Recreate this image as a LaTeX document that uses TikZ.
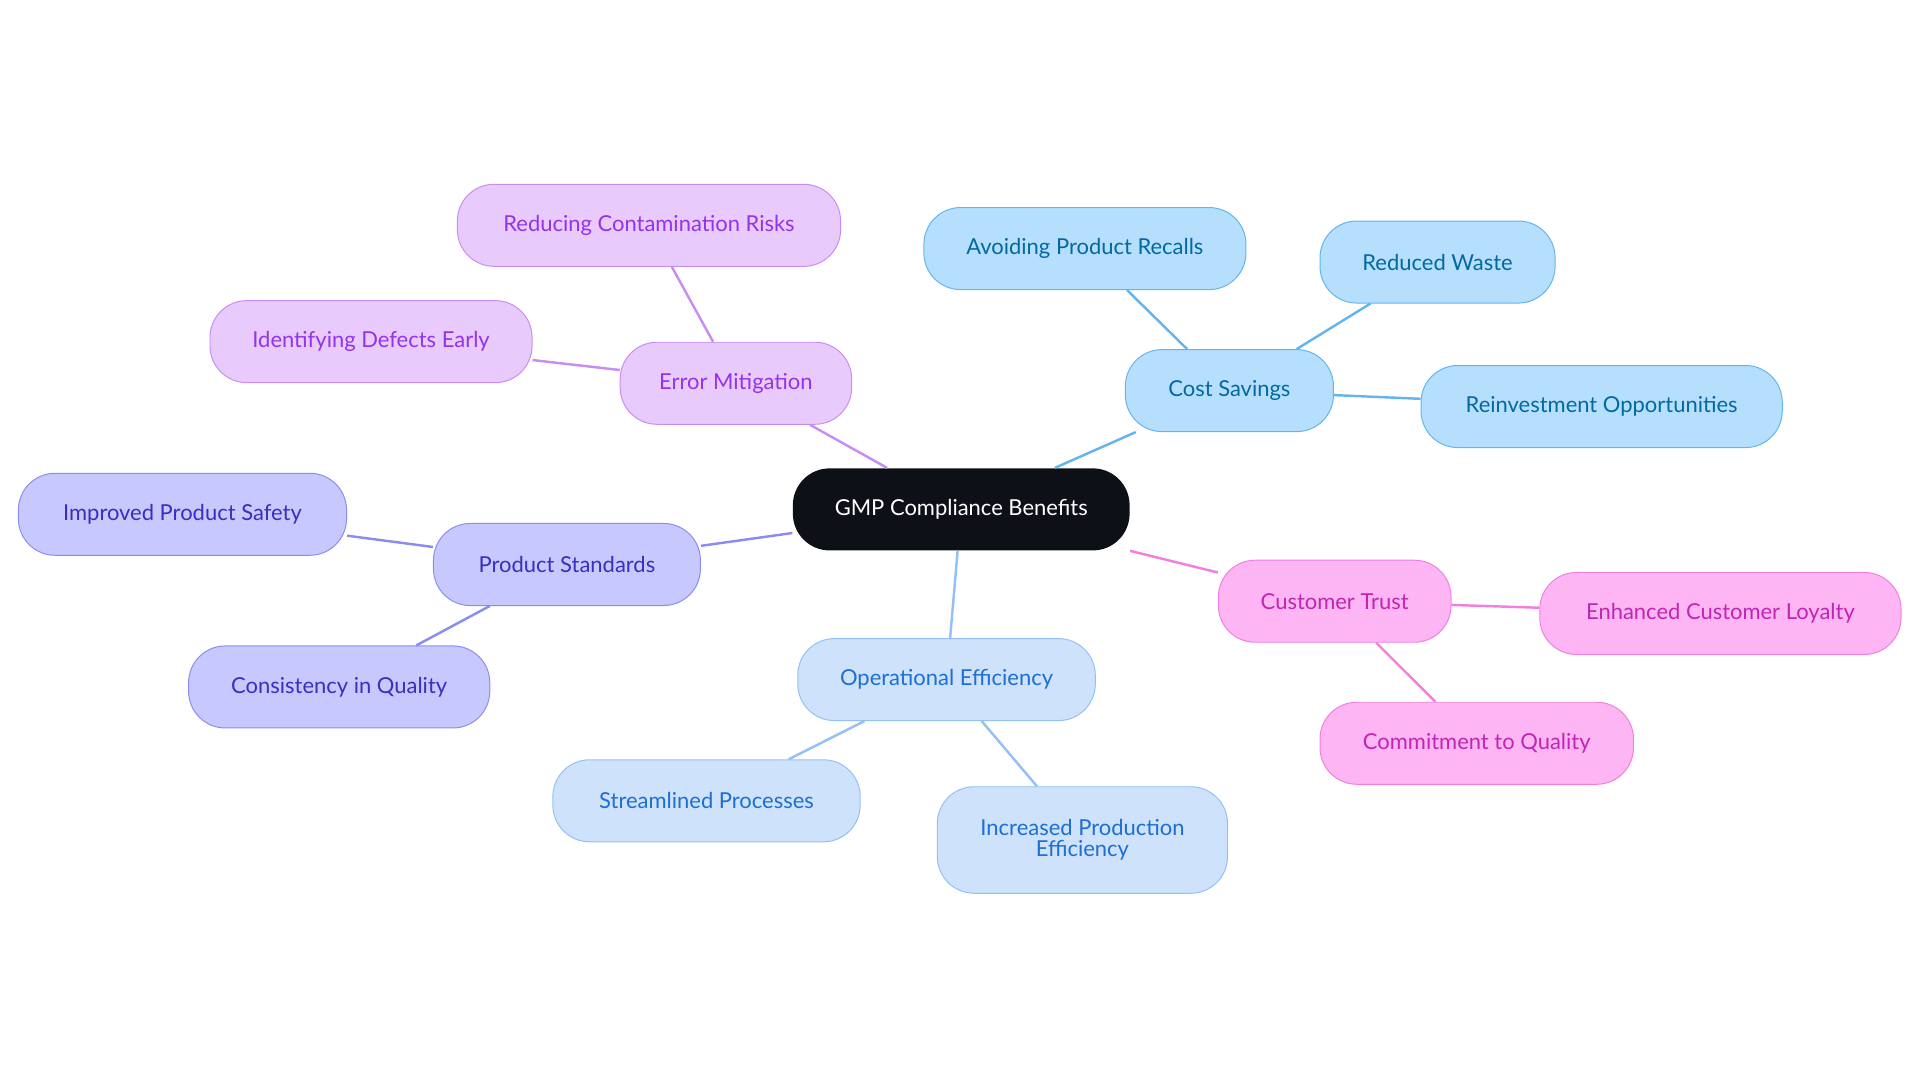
\documentclass[tikz,border=0pt]{standalone}
\usepackage{fontspec}
\setmainfont{Lato}
\begin{document}
\begin{tikzpicture}[x=1bp,y=-1bp,
 box/.style={rounded corners=30bp,minimum height=67bp,inner sep=0pt,font=\fontsize{18}{20}\selectfont,line width=0.8bp,align=center},
 pu/.style={box,fill=purple!0!white,fill={rgb,255:red,232;green,203;blue,252},draw={rgb,255:red,200;green,140;blue,245},text={rgb,255:red,147;green,51;blue,234}},
 ind/.style={box,fill={rgb,255:red,199;green,200;blue,253},draw={rgb,255:red,139;green,140;blue,240},text={rgb,255:red,55;green,48;blue,192}},
 lb/.style={box,fill={rgb,255:red,206;green,226;blue,251},draw={rgb,255:red,147;green,192;blue,245},text={rgb,255:red,29;green,111;blue,209}},
 sb/.style={box,fill={rgb,255:red,181;green,223;blue,253},draw={rgb,255:red,100;green,180;blue,238},text={rgb,255:red,3;green,105;blue,161}},
 pk/.style={box,fill={rgb,255:red,253;green,181;blue,243},draw={rgb,255:red,240;green,127;blue,224},text={rgb,255:red,192;green,38;blue,179}},
 ln/.style={line width=2bp}]
\useasboundingbox (0,0) rectangle (1568,884);
\node[box,fill={rgb,255:red,13;green,17;blue,23},text=white,minimum width=275bp] (root) at (785,416) {GMP Compliance Benefits};
\node[pu,minimum width=189bp] (em) at (601,313) {Error Mitigation};
\node[pu,minimum width=313bp] (rc) at (530,184) {Reducing Contamination Risks};
\node[pu,minimum width=263bp] (id) at (303,279) {Identifying Defects Early};
\node[ind,minimum width=218bp] (ps) at (463,461) {Product Standards};
\node[ind,minimum width=268bp] (ip) at (149,420) {Improved Product Safety};
\node[ind,minimum width=246bp] (cq) at (277,561) {Consistency in Quality};
\node[lb,minimum width=243bp] (oe) at (773,555) {Operational Efficiency};
\node[lb,minimum width=251bp] (sp) at (577,654) {Streamlined Processes};
\node[lb,minimum width=237bp,minimum height=87bp] (ipe) at (884,686) {Increased Production\\[-3bp]Efficiency};
\node[sb,minimum width=170bp] (cs) at (1004,319) {Cost Savings};
\node[sb,minimum width=263bp] (ap) at (886,203) {Avoiding Product Recalls};
\node[sb,minimum width=192bp] (rw) at (1174,214) {Reduced Waste};
\node[sb,minimum width=295bp] (ro) at (1308,332) {Reinvestment Opportunities};
\node[pk,minimum width=190bp] (ct) at (1090,491) {Customer Trust};
\node[pk,minimum width=295bp] (ecl) at (1405,501) {Enhanced Customer Loyalty};
\node[pk,minimum width=256bp] (cmq) at (1206,607) {Commitment to Quality};
\begin{scope}[on background layer/.style={}]
\end{scope}
\draw[ln,draw={rgb,255:red,200;green,140;blue,245}] (root) -- (em) (em) -- (rc) (em) -- (id);
\draw[ln,draw={rgb,255:red,139;green,140;blue,240}] (root) -- (ps) (ps) -- (ip) (ps) -- (cq);
\draw[ln,draw={rgb,255:red,147;green,192;blue,245}] (root) -- (oe) (oe) -- (sp) (oe) -- (ipe);
\draw[ln,draw={rgb,255:red,100;green,180;blue,238}] (root) -- (cs) (cs) -- (ap) (cs) -- (rw) (cs) -- (ro);
\draw[ln,draw={rgb,255:red,240;green,127;blue,224}] (root) -- (ct) (ct) -- (ecl) (ct) -- (cmq);
\end{tikzpicture}
\end{document}
